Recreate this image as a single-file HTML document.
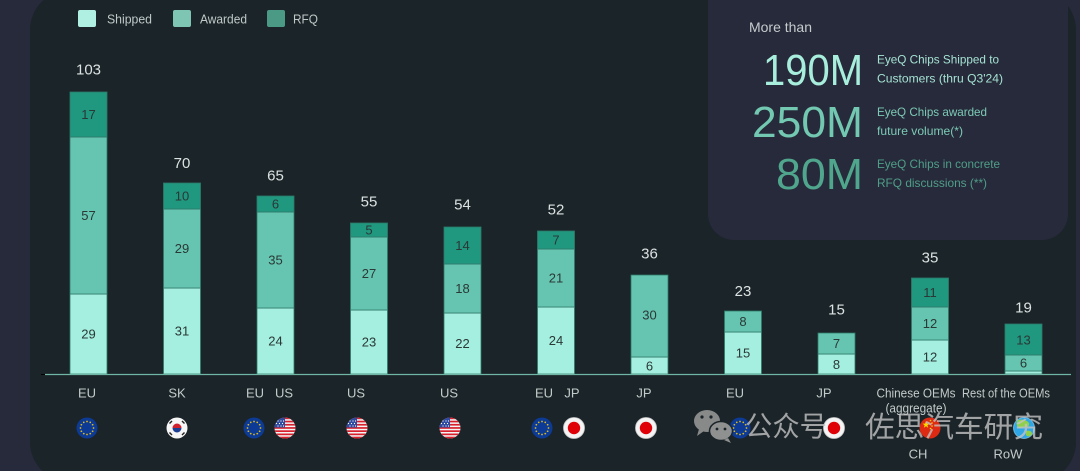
<!DOCTYPE html>
<html><head><meta charset="utf-8"><style>
html,body{margin:0;padding:0;background:#272a3b;}
svg{display:block;}
text{font-family:"Liberation Sans","Noto Sans CJK SC",sans-serif;}
</style></head><body>
<svg width="1080" height="471" viewBox="0 0 1080 471" xmlns="http://www.w3.org/2000/svg">
<defs>
<clipPath id="cc"><circle cx="0" cy="0" r="10.5"/></clipPath>
<g id="eu">
 <circle r="10.5" fill="#0c3a94"/>
 <g fill="#d8b820">
  <circle cx="0" cy="-6.5" r="0.9"/><circle cx="3.25" cy="-5.63" r="0.9"/><circle cx="5.63" cy="-3.25" r="0.9"/>
  <circle cx="6.5" cy="0" r="0.9"/><circle cx="5.63" cy="3.25" r="0.9"/><circle cx="3.25" cy="5.63" r="0.9"/>
  <circle cx="0" cy="6.5" r="0.9"/><circle cx="-3.25" cy="5.63" r="0.9"/><circle cx="-5.63" cy="3.25" r="0.9"/>
  <circle cx="-6.5" cy="0" r="0.9"/><circle cx="-5.63" cy="-3.25" r="0.9"/><circle cx="-3.25" cy="-5.63" r="0.9"/>
 </g>
</g>
<g id="us">
 <g clip-path="url(#cc)">
  <rect x="-11" y="-11" width="22" height="22" fill="#f4f4f4"/>
  <g fill="#d8202c">
   <rect x="-11" y="-10.5" width="22" height="1.7"/><rect x="-11" y="-7.3" width="22" height="1.7"/>
   <rect x="-11" y="-4.1" width="22" height="1.7"/><rect x="-11" y="-0.9" width="22" height="1.7"/>
   <rect x="-11" y="2.3" width="22" height="1.7"/><rect x="-11" y="5.5" width="22" height="1.7"/>
   <rect x="-11" y="8.7" width="22" height="1.8"/>
  </g>
  <rect x="-11" y="-11" width="11" height="10.5" fill="#2d4aa0"/>
  <g fill="#fff">
   <circle cx="-7" cy="-7" r="0.6"/><circle cx="-4" cy="-7" r="0.6"/><circle cx="-1.5" cy="-7" r="0.6"/>
   <circle cx="-8.5" cy="-4.5" r="0.6"/><circle cx="-5.5" cy="-4.5" r="0.6"/><circle cx="-2.5" cy="-4.5" r="0.6"/>
   <circle cx="-7" cy="-2" r="0.6"/><circle cx="-4" cy="-2" r="0.6"/><circle cx="-1.5" cy="-2" r="0.6"/>
  </g>
 </g>
</g>
<g id="kr">
 <circle r="10.5" fill="#f6f6f6"/>
 <path d="M-4.5,0 A4.5,4.5 0 0 1 4.5,0 Z" fill="#d0202e"/>
 <path d="M-4.5,0 A4.5,4.5 0 0 0 4.5,0 Z" fill="#1c3f94"/>
 <g stroke="#222" stroke-width="1.4">
  <line x1="-7.5" y1="-4.5" x2="-5" y2="-7"/><line x1="5" y1="-7" x2="7.5" y2="-4.5"/>
  <line x1="-7.5" y1="4.5" x2="-5" y2="7"/><line x1="5" y1="7" x2="7.5" y2="4.5"/>
 </g>
</g>
<g id="jp">
 <circle r="10.5" fill="#f4f4f4" stroke="#c8c8c8" stroke-width="0.8"/>
 <circle r="6.2" fill="#e00008"/>
</g>
<g id="cn">
 <circle r="10.5" fill="#de2a12"/>
 <polygon points="-4,-7 -3.1,-4.4 -0.5,-4.4 -2.6,-2.8 -1.8,-0.2 -4,-1.8 -6.2,-0.2 -5.4,-2.8 -7.5,-4.4 -4.9,-4.4" fill="#ffd800"/>
 <circle cx="0.5" cy="-7.5" r="0.8" fill="#ffd800"/><circle cx="2" cy="-5" r="0.8" fill="#ffd800"/>
 <circle cx="2" cy="-2" r="0.8" fill="#ffd800"/><circle cx="0.5" cy="0.5" r="0.8" fill="#ffd800"/>
</g>
<g id="row">
 <circle r="10.5" fill="#2fa6e6"/>
 <path d="M-6,-8 C-2,-9 3,-8 5,-5 C6,-2 3,0 1,-1 C-1,-2 -3,1 -5,0 C-8,-2 -8,-6 -6,-8 Z" fill="#8fd04a"/>
 <path d="M2,3 C5,2 8,3 8,6 C6,9 3,9 2,7 Z" fill="#8fd04a"/>
 <circle r="10.5" fill="none" stroke="#9fe0ff" stroke-width="1" opacity="0.6"/>
</g>
</defs>

<!-- background -->
<rect x="0" y="0" width="1080" height="471" fill="#272a3b"/>
<rect x="30" y="-10" width="1046" height="492" rx="40" ry="40" fill="#1b2428"/>

<!-- stats box -->
<rect x="708" y="-30" width="360" height="270" rx="26" ry="26" fill="#272a3b"/>
<text x="749" y="32" font-size="14" fill="#c5cccc" textLength="63" lengthAdjust="spacingAndGlyphs">More than</text>
<text x="863" y="85" font-size="44" fill="#a8eedd" text-anchor="end" textLength="100" lengthAdjust="spacingAndGlyphs">190M</text>
<text x="863" y="137" font-size="44" fill="#72c8b0" text-anchor="end" textLength="111" lengthAdjust="spacingAndGlyphs">250M</text>
<text x="863" y="189" font-size="44" fill="#4fa68c" text-anchor="end" textLength="87" lengthAdjust="spacingAndGlyphs">80M</text>
<g font-size="12">
<text x="877" y="63.5" fill="#a4e2d2" textLength="122" lengthAdjust="spacingAndGlyphs">EyeQ Chips Shipped to</text>
<text x="877" y="82.5" fill="#a4e2d2" textLength="126" lengthAdjust="spacingAndGlyphs">Customers (thru Q3'24)</text>
<text x="877" y="116" fill="#7ccab5" textLength="110" lengthAdjust="spacingAndGlyphs">EyeQ Chips awarded</text>
<text x="877" y="135" fill="#7ccab5" textLength="86" lengthAdjust="spacingAndGlyphs">future volume(*)</text>
<text x="877" y="168" fill="#4f9e88" textLength="123" lengthAdjust="spacingAndGlyphs">EyeQ Chips in concrete</text>
<text x="877" y="187" fill="#4f9e88" textLength="110" lengthAdjust="spacingAndGlyphs">RFQ discussions (**)</text>
</g>

<!-- legend -->
<rect x="78" y="10" width="18" height="17" rx="2" fill="#b0f0e2"/>
<text x="107" y="23.5" font-size="13" fill="#c0c8c8" textLength="45" lengthAdjust="spacingAndGlyphs">Shipped</text>
<rect x="173" y="10" width="18" height="17" rx="2" fill="#7ec6b3"/>
<text x="200" y="23.5" font-size="13" fill="#c0c8c8" textLength="47" lengthAdjust="spacingAndGlyphs">Awarded</text>
<rect x="267" y="10" width="18" height="17" rx="2" fill="#4a9a86"/>
<text x="293" y="23.5" font-size="13" fill="#c0c8c8" textLength="25" lengthAdjust="spacingAndGlyphs">RFQ</text>

<!-- bars -->
<g stroke="#2f7a6a" stroke-width="0.8">
<!-- 1 -->
<rect x="70" y="294" width="37" height="80" fill="#a5efe0"/>
<rect x="70" y="137" width="37" height="157" fill="#66c5b0"/>
<rect x="70" y="92" width="37" height="45" fill="#20977f"/>
<!-- 2 -->
<rect x="163.5" y="288" width="37" height="86" fill="#a5efe0"/>
<rect x="163.5" y="209" width="37" height="79" fill="#66c5b0"/>
<rect x="163.5" y="183" width="37" height="26" fill="#20977f"/>
<!-- 3 -->
<rect x="257" y="308" width="37" height="66" fill="#a5efe0"/>
<rect x="257" y="212" width="37" height="96" fill="#66c5b0"/>
<rect x="257" y="196" width="37" height="16" fill="#20977f"/>
<!-- 4 -->
<rect x="350.5" y="310" width="37" height="64" fill="#a5efe0"/>
<rect x="350.5" y="237" width="37" height="73" fill="#66c5b0"/>
<rect x="350.5" y="223" width="37" height="14" fill="#20977f"/>
<!-- 5 -->
<rect x="444" y="313" width="37" height="61" fill="#a5efe0"/>
<rect x="444" y="264" width="37" height="49" fill="#66c5b0"/>
<rect x="444" y="227" width="37" height="37" fill="#20977f"/>
<!-- 6 -->
<rect x="537.5" y="307" width="37" height="67" fill="#a5efe0"/>
<rect x="537.5" y="249" width="37" height="58" fill="#66c5b0"/>
<rect x="537.5" y="231" width="37" height="18" fill="#20977f"/>
<!-- 7 -->
<rect x="631" y="357" width="37" height="17" fill="#a5efe0"/>
<rect x="631" y="275" width="37" height="82" fill="#66c5b0"/>
<!-- 8 -->
<rect x="724.5" y="332" width="37" height="42" fill="#a5efe0"/>
<rect x="724.5" y="311" width="37" height="21" fill="#66c5b0"/>
<!-- 9 -->
<rect x="818" y="354" width="37" height="20" fill="#a5efe0"/>
<rect x="818" y="333" width="37" height="21" fill="#66c5b0"/>
<!-- 10 -->
<rect x="911.5" y="340" width="37" height="34" fill="#a5efe0"/>
<rect x="911.5" y="307" width="37" height="33" fill="#66c5b0"/>
<rect x="911.5" y="278" width="37" height="29" fill="#20977f"/>
<!-- 11 -->
<rect x="1005" y="371" width="37" height="3" fill="#a5efe0"/>
<rect x="1005" y="355" width="37" height="16" fill="#66c5b0"/>
<rect x="1005" y="324" width="37" height="31" fill="#20977f"/>
</g>

<!-- baseline -->
<line x1="45" y1="374.5" x2="1071" y2="374.5" stroke="#6fb6a5" stroke-width="1.2"/>
<line x1="41" y1="374.5" x2="45" y2="374.5" stroke="#000" stroke-width="1"/>

<!-- segment labels -->
<g font-size="13" fill="#2a3836" text-anchor="middle" dominant-baseline="central">
<text x="88.5" y="334">29</text><text x="88.5" y="215.5">57</text><text x="88.5" y="114.5">17</text>
<text x="182" y="331">31</text><text x="182" y="248.5">29</text><text x="182" y="196">10</text>
<text x="275.5" y="341">24</text><text x="275.5" y="260">35</text><text x="275.5" y="204">6</text>
<text x="369" y="342">23</text><text x="369" y="273.5">27</text><text x="369" y="230">5</text>
<text x="462.5" y="343.5">22</text><text x="462.5" y="288.5">18</text><text x="462.5" y="245.5">14</text>
<text x="556" y="340.5">24</text><text x="556" y="278">21</text><text x="556" y="240">7</text>
<text x="649.5" y="366">6</text><text x="649.5" y="315">30</text>
<text x="743" y="353">15</text><text x="743" y="321.5">8</text>
<text x="836.5" y="364.5">8</text><text x="836.5" y="343.5">7</text>
<text x="930" y="357">12</text><text x="930" y="323.5">12</text><text x="930" y="292.5">11</text>
<text x="1023.5" y="363">6</text><text x="1023.5" y="340">13</text>
</g>

<!-- totals -->
<g font-size="15" fill="#dce2e2" text-anchor="middle" dominant-baseline="central">
<text x="88.5" y="70">103</text>
<text x="182" y="163.5">70</text>
<text x="275.5" y="176">65</text>
<text x="369" y="202">55</text>
<text x="462.5" y="205">54</text>
<text x="556" y="210">52</text>
<text x="649.5" y="254">36</text>
<text x="743" y="291.5">23</text>
<text x="836.5" y="310">15</text>
<text x="930" y="258">35</text>
<text x="1023.5" y="308">19</text>
</g>

<!-- category labels -->
<g font-size="13" fill="#c3caca" text-anchor="middle" dominant-baseline="central">
<text x="87" y="393">EU</text>
<text x="177" y="393">SK</text>
<text x="255" y="393">EU</text><text x="284" y="393">US</text>
<text x="356" y="393">US</text>
<text x="449" y="393">US</text>
<text x="544" y="393">EU</text><text x="572" y="393">JP</text>
<text x="644" y="393">JP</text>
<text x="735" y="393">EU</text>
<text x="824" y="393">JP</text>
<text x="916" y="393" textLength="79" lengthAdjust="spacingAndGlyphs">Chinese OEMs</text>
<text x="916" y="408" textLength="61" lengthAdjust="spacingAndGlyphs">(aggregate)</text>
<text x="1006" y="393" textLength="88" lengthAdjust="spacingAndGlyphs">Rest of the OEMs</text>
<text x="918" y="454">CH</text>
<text x="1008" y="454">RoW</text>
</g>

<!-- flags -->
<use href="#eu" x="87" y="428"/>
<use href="#kr" x="177" y="428"/>
<use href="#eu" x="254" y="428"/>
<use href="#us" x="285" y="428"/>
<use href="#us" x="357" y="428"/>
<use href="#us" x="450" y="428"/>
<use href="#eu" x="542" y="428"/>
<use href="#jp" x="574" y="428"/>
<use href="#jp" x="646" y="428"/>
<use href="#eu" x="740" y="428"/>
<use href="#jp" x="834" y="428"/>
<use href="#cn" x="930" y="428"/>
<use href="#row" x="1024" y="428"/>

<!-- watermark -->
<g opacity="0.85">
 <ellipse cx="707" cy="421" rx="13" ry="11" fill="#9c9c9c"/>
 <path d="M699,429 L697,436 L704,431 Z" fill="#9c9c9c"/>
 <ellipse cx="721" cy="431" rx="11.5" ry="9.5" fill="#a4a4a4" stroke="#1b2428" stroke-width="1.5"/>
 <path d="M728,438 L731,443 L724,440 Z" fill="#a4a4a4"/>
 <circle cx="702" cy="417" r="1.6" fill="#1b2428"/><circle cx="711" cy="417" r="1.6" fill="#1b2428"/>
 <circle cx="717" cy="429" r="1.4" fill="#1b2428"/><circle cx="725" cy="429" r="1.4" fill="#1b2428"/>
</g>
<text x="745" y="436" font-size="28" fill="rgba(195,195,195,0.8)" style="font-family:'Noto Sans CJK SC',sans-serif" textLength="82" lengthAdjust="spacingAndGlyphs">公众号</text>
<text x="865" y="437" font-size="29" fill="rgba(195,195,195,0.8)" style="font-family:'Noto Sans CJK SC',sans-serif" textLength="178" lengthAdjust="spacingAndGlyphs">佐思汽车研究</text>
</svg>
</body></html>
